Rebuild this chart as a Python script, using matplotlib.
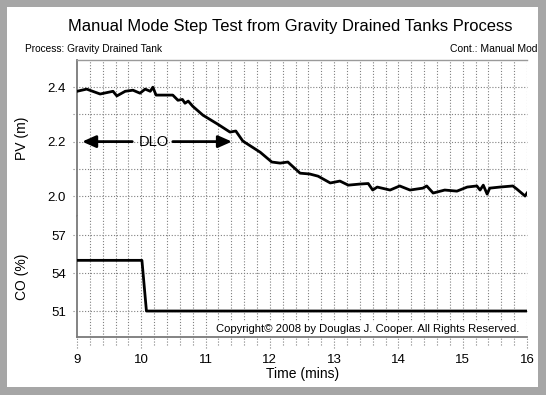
import numpy as np
import matplotlib
matplotlib.use('Agg')
import matplotlib.pyplot as plt
import matplotlib.transforms as mtransforms
from matplotlib.patches import Rectangle

# process variable (tank level, m)
t_pv = [9.00, 9.15, 9.36, 9.56, 9.62, 9.75, 9.87, 9.98, 10.06, 10.14, 10.18, 10.23,
        10.49, 10.57, 10.64, 10.68, 10.73, 10.80, 10.96, 11.19, 11.38, 11.47, 11.58,
        11.85, 12.03, 12.16, 12.28, 12.47, 12.62, 12.75, 12.94, 13.09, 13.22, 13.40,
        13.53, 13.60, 13.67, 13.87, 14.02, 14.18, 14.38, 14.44, 14.54, 14.72, 14.91,
        15.07, 15.22, 15.27, 15.32, 15.38, 15.42, 15.58, 15.78, 15.84, 15.97, 16.00]
pv = [2.385, 2.393, 2.375, 2.385, 2.368, 2.385, 2.389, 2.378, 2.393, 2.385, 2.400, 2.371,
      2.371, 2.352, 2.355, 2.341, 2.349, 2.330, 2.297, 2.264, 2.235, 2.239, 2.202,
      2.161, 2.125, 2.121, 2.125, 2.084, 2.081, 2.073, 2.048, 2.055, 2.040, 2.044,
      2.046, 2.022, 2.033, 2.022, 2.037, 2.022, 2.029, 2.037, 2.011, 2.022, 2.018,
      2.033, 2.037, 2.022, 2.040, 2.007, 2.029, 2.033, 2.037, 2.026, 2.000, 2.011]

# controller output (%)
t_co = [9.0, 10.01, 10.08, 16.0]
co = [55.0, 55.0, 51.0, 51.0]

time_ticks = [9, 10, 11, 12, 13, 14, 15, 16]
pv_ticks = [2.0, 2.2, 2.4]
pv_grid = [2.0, 2.1, 2.2, 2.3, 2.4]
co_ticks = [51, 54, 57]

plt.rcParams['font.family'] = ['Liberation Sans', 'DejaVu Sans']

W, H = 546, 395
fig = plt.figure(figsize=(W / 100, H / 100), dpi=100)
fig.patch.set_facecolor('white')


def fx(px):
    return px / W


def fy(py):
    return 1 - py / H


left, right = 77, 527
top, mid, bot = 60, 216, 337
ax_pv = fig.add_axes([fx(left), fy(mid), (right - left) / W, (mid - top) / H])
ax_co = fig.add_axes([fx(left), fy(bot), (right - left) / W, (bot - mid) / H])

gcol = '#808080'
gstyle = (0, (1, 1.6))
scol = '#7a7a7a'
minor = np.arange(time_ticks[0], time_ticks[-1] + 0.01, 0.2)

for ax in (ax_pv, ax_co):
    ax.set_xlim(time_ticks[0], time_ticks[-1])
    for x in minor[1:]:
        ax.axvline(x, color=gcol, ls=gstyle, lw=0.8, zorder=1)
    for s in ('right', 'top', 'bottom'):
        ax.spines[s].set_visible(False)
    ax.spines['left'].set_color(scol)
    ax.spines['left'].set_linewidth(1.3)
    ax.tick_params(length=0, labelsize=9.5, pad=8)

ax_pv.spines['top'].set_visible(True)
ax_pv.spines['top'].set_color('#9a9a9a')
ax_pv.spines['top'].set_linewidth(1.0)
ax_co.spines['bottom'].set_visible(True)
ax_co.spines['bottom'].set_color(scol)
ax_co.spines['bottom'].set_linewidth(1.3)

# PV panel
ax_pv.set_ylim(1.9266, 2.5)
for y in pv_grid:
    ax_pv.axhline(y, xmin=-0.01, xmax=1, color=gcol, ls=gstyle, lw=0.8, zorder=1, clip_on=False)
ax_pv.plot(t_pv, pv, color='black', lw=2.0, zorder=3)
ax_pv.set_yticks(pv_ticks)
ax_pv.set_yticklabels(['%.1f' % v for v in pv_ticks])
ax_pv.set_xticks([])

# DLO annotation
ax_pv.text(10.19, 2.2, 'DLO', fontsize=10.5, ha='center', va='center', zorder=4)
ap = dict(arrowstyle='-|>,head_length=0.45,head_width=0.2', lw=2, color='black',
          mutation_scale=18, shrinkA=0, shrinkB=0)
ax_pv.annotate('', xy=(9.08, 2.2), xytext=(9.86, 2.2), arrowprops=ap)
ax_pv.annotate('', xy=(11.41, 2.2), xytext=(10.49, 2.2), arrowprops=ap)

# CO panel
ax_co.set_ylim(48.95, 58.5)
for y in co_ticks:
    ax_co.axhline(y, xmin=-0.01, xmax=1, color=gcol, ls=gstyle, lw=0.8, zorder=1, clip_on=False)
ax_co.plot(t_co, co, color='black', lw=2.0, zorder=3)
ax_co.set_yticks(co_ticks)
ax_co.set_xticks(time_ticks)
ax_co.tick_params(axis='x', pad=12)

# dotted grid continues a little below the bottom axis
trans = mtransforms.blended_transform_factory(ax_co.transData, ax_co.transAxes)
for x in minor:
    ext = -0.09 if abs(x - round(x)) < 1e-6 else -0.065
    ax_co.plot([x, x], [ext, 0], color=gcol, ls=gstyle, lw=0.8, transform=trans, clip_on=False)

ax_co.text(0.984, 0.041, 'Copyright\u00a9 2008 by Douglas J. Cooper. All Rights Reserved.',
           transform=ax_co.transAxes, ha='right', va='baseline', fontsize=8.1, zorder=5,
           bbox=dict(facecolor='white', edgecolor='none', pad=1.5))

# texts
fig.text(fx(290), fy(30.5), 'Manual Mode Step Test from Gravity Drained Tanks Process',
         ha='center', va='baseline', fontsize=11.9)
fig.text(fx(25), fy(52.5), 'Process: Gravity Drained Tank', ha='left', va='baseline', fontsize=7.3)
fig.text(fx(450), fy(52), 'Cont.: Manual Mode', ha='left', va='baseline', fontsize=7.5)
fig.text(fx(22), fy(138), 'PV (m)', rotation=90, ha='center', va='center', fontsize=10)
fig.text(fx(22), fy(277), 'CO (%)', rotation=90, ha='center', va='center', fontsize=10)
fig.text(fx(303), fy(374), 'Time (mins)', ha='center', va='center', fontsize=10)

# grey window frame
band = '#a6a6a6'
for (x0, y0, w, h) in [(0, 0, W, 7), (0, 0, 7, H), (538, 0, W - 538, H), (0, 387, W, H - 387)]:
    fig.patches.append(Rectangle((fx(x0), fy(y0 + h)), w / W, h / H, transform=fig.transFigure,
                                 facecolor=band, edgecolor='none', zorder=10))

fig.savefig('out.png', dpi=100)
